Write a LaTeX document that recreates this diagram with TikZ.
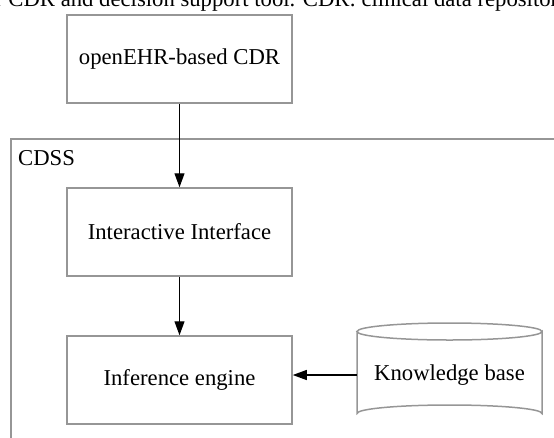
\documentclass[tikz,border=0pt]{standalone}
\usepackage{fontspec}
\setmainfont{Liberation Serif}
\usetikzlibrary{arrows.meta}
\definecolor{boxgray}{RGB}{150,150,150}
\tikzset{
  box/.style={draw=boxgray, line width=1.5pt, minimum width=225pt, minimum height=88pt, inner sep=0pt, font=\fontsize{22.7}{27}\selectfont},
  conn/.style={draw=black, line width=1.2pt, -{Triangle[length=14pt,width=10pt]}},
  lbl/.style={font=\fontsize{22.7}{27}\selectfont, inner sep=0pt}
}
\begin{document}
\begin{tikzpicture}[x=1pt,y=-1pt]
\useasboundingbox (0,0) rectangle (554,437);
\clip (0,0) rectangle (554,437);
% clipped caption line
\node[lbl, anchor=base west] (cap) at (-5,6) {r CDR and decision support tool. CDR: clinical data repositor};
% CDSS frame
\draw[draw=boxgray, line width=1.5pt] (11,139) rectangle (620,520);
\node[lbl, anchor=base west] (cdss) at (18,165) {CDSS};
% boxes
\node[box] (cdr) at (179.5,59) {openEHR-based CDR};
\node[box] (ii) at (179.5,232) {Interactive Interface};
\node[box] (inf) at (179.5,380) {Inference engine};
% knowledge base cylinder
\draw[draw=boxgray, line width=1.5pt]
  (357,331.5) -- (357,413.5) arc[start angle=180, end angle=360, x radius=92.5, y radius=8.5]
  -- (542,331.5) arc[start angle=0, end angle=180, x radius=92.5, y radius=8.5]
  arc[start angle=180, end angle=360, x radius=92.5, y radius=8.5];
\node[lbl, minimum width=185pt, minimum height=40pt] (kb) at (449.5,375) {Knowledge base};
% connectors
\draw[conn] (cdr.south) -- (ii.north);
\draw[conn] (ii.south) -- (inf.north);
\draw[conn] (kb.west) -- (kb.west -| inf.east);
\end{tikzpicture}
\end{document}
